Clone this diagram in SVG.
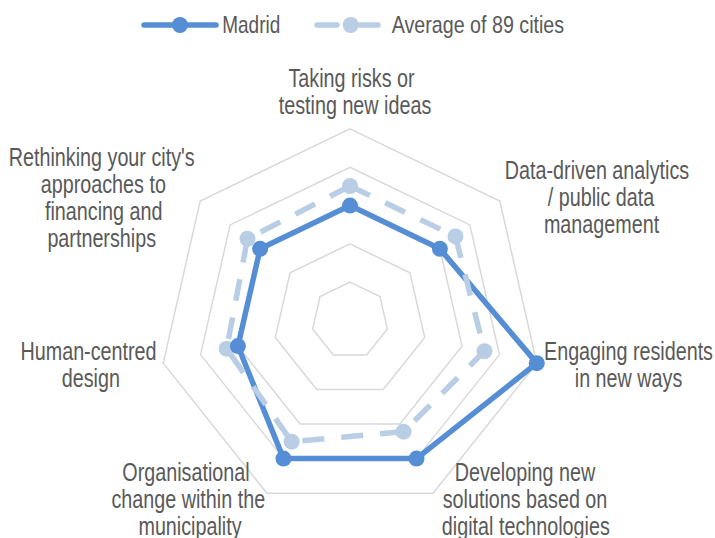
<svg xmlns="http://www.w3.org/2000/svg" width="715" height="538" viewBox="0 0 715 538">
<style>
.grid{fill:none;stroke:#D9D9D9;stroke-width:1.5}
.madrid{fill:none;stroke:#558ED5;stroke-width:5.5;stroke-linejoin:round}
.avg{fill:none;stroke:#B9CDE5;stroke-width:5.5;stroke-dasharray:22 17;stroke-linejoin:round}
.mm{fill:#558ED5}
.am{fill:#B9CDE5}
.lbl{font-family:"Liberation Sans",Arial,sans-serif;font-size:25px;fill:#595959;text-anchor:middle}
.leg{font-family:"Liberation Sans",Arial,sans-serif;font-size:24px;fill:#595959}
</style>
<rect width="715" height="538" fill="#FFFFFF"/>
<g id="legend">
  <line x1="144" y1="25" x2="216" y2="25" stroke="#558ED5" stroke-width="5.5" stroke-linecap="round"/>
  <circle cx="180" cy="25" r="8" class="mm"/>
  <text class="leg" transform="translate(222.3,33.3) scale(0.79,1)">Madrid</text>
  <line x1="317" y1="25" x2="337" y2="25" stroke="#B9CDE5" stroke-width="5.5" stroke-linecap="round"/>
  <line x1="360" y1="25" x2="378" y2="25" stroke="#B9CDE5" stroke-width="5.5" stroke-linecap="round"/>
  <circle cx="350.7" cy="25" r="8" class="am"/>
  <text class="leg" transform="translate(391.7,33.3) scale(0.82,1)">Average of 89 cities</text>
</g>
<g id="grid">
  <polygon class="grid" points="350,282.18 379.96,296.61 387.36,329.03 366.63,355.03 333.37,355.03 312.64,329.03 320.04,296.61"/>
  <polygon class="grid" points="350,243.86 409.92,272.72 424.72,337.55 383.25,389.55 316.75,389.55 275.28,337.55 290.08,272.72"/>
  <polygon class="grid" points="350,205.54 439.88,248.82 462.08,346.08 399.88,424.08 300.12,424.08 237.92,346.08 260.12,248.82"/>
  <polygon class="grid" points="350,167.22 469.84,224.93 499.44,354.61 416.51,458.60 283.49,458.60 200.56,354.61 230.16,224.93"/>
  <polygon class="grid" points="350,128.9 499.80,201.04 536.80,363.13 433.13,493.13 266.87,493.13 163.20,363.13 200.20,201.04"/>
</g>
<g id="series">
  <polygon id="madrid-line" class="madrid" points="350,205.54 439.88,248.82 536.80,363.13 416.51,458.60 283.49,458.60 237.92,346.08 260.12,248.82"/>
  <polygon id="average-line" class="avg" points="350,186 455.47,236.39 484.49,351.20 403.54,431.68 291.64,441.68 226.67,348.65 247.50,238.76"/>
  <g id="average-markers" class="am">
    <circle cx="350" cy="186" r="8"/>
    <circle cx="455.47" cy="236.39" r="8"/>
    <circle cx="484.49" cy="351.20" r="8"/>
    <circle cx="403.54" cy="431.68" r="8"/>
    <circle cx="291.64" cy="441.68" r="8"/>
    <circle cx="226.67" cy="348.65" r="8"/>
    <circle cx="247.50" cy="238.76" r="8"/>
  </g>
  <g id="madrid-markers" class="mm">
    <circle cx="350" cy="205.54" r="8"/>
    <circle cx="439.88" cy="248.82" r="8"/>
    <circle cx="536.80" cy="363.13" r="8"/>
    <circle cx="416.51" cy="458.60" r="8"/>
    <circle cx="283.49" cy="458.60" r="8"/>
    <circle cx="237.92" cy="346.08" r="8"/>
    <circle cx="260.12" cy="248.82" r="8"/>
  </g>
</g>
<g id="labels">
  <g id="label-risks">
    <text class="lbl" transform="translate(351.5,86.5) scale(0.79,1)">Taking risks or</text>
    <text class="lbl" transform="translate(355,113.5) scale(0.79,1)">testing new ideas</text>
  </g>
  <g id="label-data">
    <text class="lbl" transform="translate(597,178.5) scale(0.79,1)">Data-driven analytics</text>
    <text class="lbl" transform="translate(601,205.5) scale(0.79,1)">/ public data</text>
    <text class="lbl" transform="translate(601.5,232.5) scale(0.79,1)">management</text>
  </g>
  <g id="label-engaging">
    <text class="lbl" transform="translate(628.5,359.7) scale(0.79,1)">Engaging residents</text>
    <text class="lbl" transform="translate(628.5,386.7) scale(0.79,1)">in new ways</text>
  </g>
  <g id="label-developing">
    <text class="lbl" transform="translate(525,481.3) scale(0.79,1)">Developing new</text>
    <text class="lbl" transform="translate(525,508.3) scale(0.79,1)">solutions based on</text>
    <text class="lbl" transform="translate(525.8,535.3) scale(0.79,1)">digital technologies</text>
  </g>
  <g id="label-organisational">
    <text class="lbl" transform="translate(186,481.3) scale(0.79,1)">Organisational</text>
    <text class="lbl" transform="translate(188.3,508.3) scale(0.79,1)">change within the</text>
    <text class="lbl" transform="translate(190,535.3) scale(0.79,1)">municipality</text>
  </g>
  <g id="label-human">
    <text class="lbl" transform="translate(88.5,359.7) scale(0.79,1)">Human-centred</text>
    <text class="lbl" transform="translate(90.8,386.7) scale(0.79,1)">design</text>
  </g>
  <g id="label-rethinking">
    <text class="lbl" transform="translate(101.7,166.3) scale(0.79,1)">Rethinking your city's</text>
    <text class="lbl" transform="translate(103.3,193.3) scale(0.79,1)">approaches to</text>
    <text class="lbl" transform="translate(103.7,220.3) scale(0.79,1)">financing and</text>
    <text class="lbl" transform="translate(101.7,247.3) scale(0.79,1)">partnerships</text>
  </g>
</g>
</svg>
